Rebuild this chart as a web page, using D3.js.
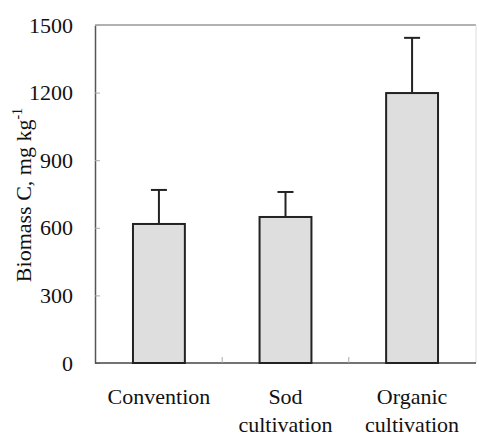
<!DOCTYPE html>
<html>
<head>
<meta charset="utf-8">
<script src="https://cdn.jsdelivr.net/npm/d3@7"></script>
<style>
  body { margin: 0; background: #fff; }
  text { font-family: "Liberation Serif", "Times New Roman", serif; fill: #111; }
</style>
</head>
<body>
<div id="chart"></div>
<script>
// Data
const categories = [["Convention"], ["Sod", "cultivation"], ["Organic", "cultivation"]];
const means = [617, 648, 1198];
const upperErr = [768, 759, 1443];
const yTicks = [0, 300, 600, 900, 1200, 1500];

const width = 479, height = 436;
const margin = { top: 25, right: 3, bottom: 73, left: 95 };
const innerWidth = width - margin.left - margin.right;
const innerHeight = height - margin.top - margin.bottom;

const svg = d3.select("#chart")
  .append("svg")
  .attr("width", width)
  .attr("height", height);

const g = svg.append("g")
  .attr("transform", `translate(${margin.left},${margin.top})`);

const xScale = d3.scaleBand()
  .domain(d3.range(categories.length))
  .range([0, innerWidth])
  .paddingInner(0.59)
  .paddingOuter(0.3);

const yScale = d3.scaleLinear()
  .domain([0, 1500])
  .range([innerHeight, 0]);

// frame (top and right are faint)
g.append("line")
  .attr("x1", 0).attr("x2", innerWidth)
  .attr("y1", 0).attr("y2", 0)
  .attr("stroke", "#999").attr("stroke-width", 1.5);
g.append("line")
  .attr("x1", innerWidth).attr("x2", innerWidth)
  .attr("y1", 0).attr("y2", innerHeight)
  .attr("stroke", "#ddd").attr("stroke-width", 1);

// Y axis
const yAxis = g.append("g")
  .call(d3.axisLeft(yScale).tickValues(yTicks).tickFormat(d3.format("d"))
    .tickSizeInner(-5).tickSizeOuter(0).tickPadding(22));
yAxis.select(".domain").attr("stroke", "#555").attr("stroke-width", 1.5);
yAxis.selectAll(".tick line").attr("stroke", "#aaa");
yAxis.selectAll(".tick text")
  .attr("font-size", "22px")
  .attr("font-family", "Liberation Serif, serif")
  .attr("fill", "#111");

// X axis with inward separators between categories
const xAxis = g.append("g")
  .attr("transform", `translate(0,${innerHeight})`);
xAxis.append("line")
  .attr("x1", 0).attr("x2", innerWidth)
  .attr("stroke", "#444").attr("stroke-width", 1.5);
const step = xScale.step();
const seps = d3.range(1, categories.length).map(i => xScale(i) - step * xScale.paddingInner() / 2);
xAxis.selectAll(".sep")
  .data(seps)
  .join("line")
  .attr("class", "sep")
  .attr("x1", d => d).attr("x2", d => d)
  .attr("y1", 0).attr("y2", -6)
  .attr("stroke", "#aaa");

// Category labels
const labels = g.selectAll(".cat")
  .data(categories)
  .join("text")
  .attr("class", "cat")
  .attr("text-anchor", "middle")
  .attr("font-size", "22px")
  .attr("x", (d, i) => xScale(i) + xScale.bandwidth() / 2)
  .attr("y", innerHeight + 41);
labels.selectAll("tspan")
  .data(d => d)
  .join("tspan")
  .attr("x", function () { return d3.select(this.parentNode).attr("x"); })
  .attr("dy", (d, i) => i === 0 ? 0 : 28)
  .text(d => d);

// Error bars (upper only)
const errs = g.selectAll(".err")
  .data(means)
  .join("g")
  .attr("class", "err");
errs.append("line")
  .attr("x1", (d, i) => xScale(i) + xScale.bandwidth() / 2)
  .attr("x2", (d, i) => xScale(i) + xScale.bandwidth() / 2)
  .attr("y1", d => yScale(d))
  .attr("y2", (d, i) => yScale(upperErr[i]))
  .attr("stroke", "#222").attr("stroke-width", 2);
errs.append("line")
  .attr("x1", (d, i) => xScale(i) + xScale.bandwidth() / 2 - 8)
  .attr("x2", (d, i) => xScale(i) + xScale.bandwidth() / 2 + 8)
  .attr("y1", (d, i) => yScale(upperErr[i]))
  .attr("y2", (d, i) => yScale(upperErr[i]))
  .attr("stroke", "#222").attr("stroke-width", 2);

// Bars
g.selectAll(".bar")
  .data(means)
  .join("rect")
  .attr("class", "bar")
  .attr("x", (d, i) => xScale(i))
  .attr("y", d => yScale(d))
  .attr("width", xScale.bandwidth())
  .attr("height", d => innerHeight - yScale(d))
  .attr("fill", "#dedede")
  .attr("stroke", "#222")
  .attr("stroke-width", 2);

// Y axis label
const yLabel = svg.append("text")
  .attr("transform", `translate(31,${margin.top + 170}) rotate(-90)`)
  .attr("text-anchor", "middle")
  .attr("font-size", "22px");
yLabel.append("tspan").text("Biomass C, mg kg");
yLabel.append("tspan").attr("font-size", "14px").attr("dy", -9).text("-1");
</script>
</body>
</html>
